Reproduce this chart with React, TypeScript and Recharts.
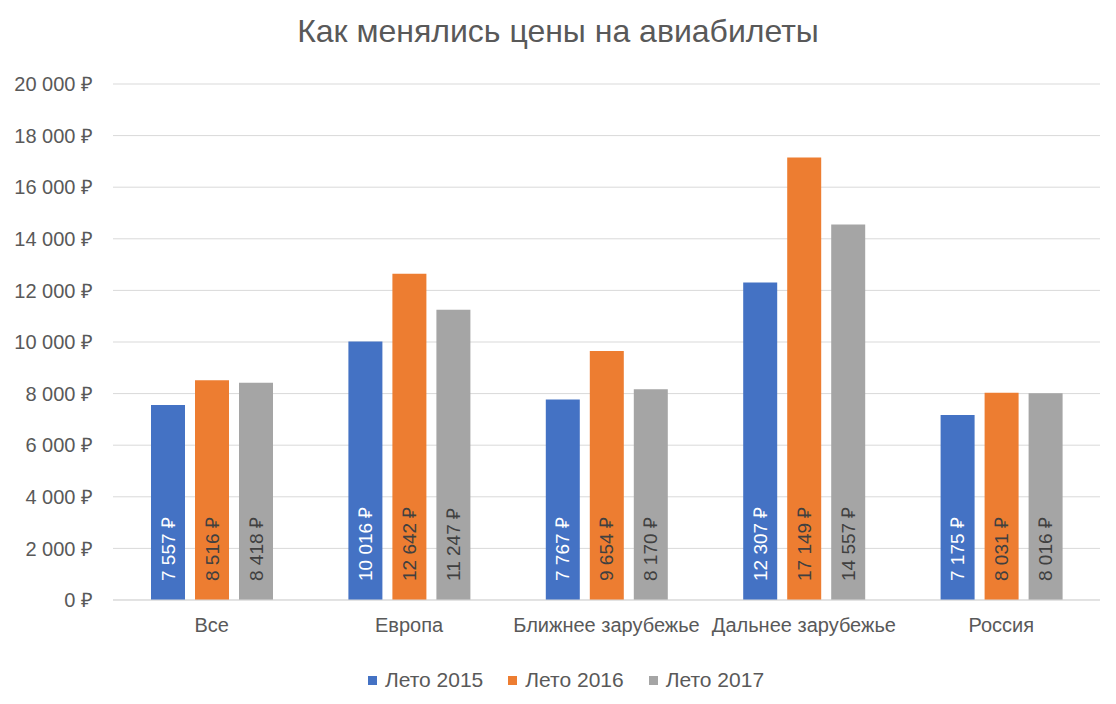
import { BarChart, Bar, XAxis, YAxis, CartesianGrid, Legend } from 'recharts'

const categories = ['Все', 'Европа', 'Ближнее зарубежье', 'Дальнее зарубежье', 'Россия']
const summer2015 = [7557, 10016, 7767, 12307, 7175]
const summer2016 = [8516, 12642, 9654, 17149, 8031]
const summer2017 = [8418, 11247, 8170, 14557, 8016]
const yTicks = [0, 2000, 4000, 6000, 8000, 10000, 12000, 14000, 16000, 18000, 20000]

const seriesInfo = [
  { key: 'y2015', name: 'Лето 2015', color: '#4472C4', labelColor: '#ffffff' },
  { key: 'y2016', name: 'Лето 2016', color: '#ED7D31', labelColor: '#404040' },
  { key: 'y2017', name: 'Лето 2017', color: '#A5A5A5', labelColor: '#404040' },
]

const data = categories.map((name, i) => ({
  name,
  y2015: summer2015[i],
  y2016: summer2016[i],
  y2017: summer2017[i],
}))

const FONT = '"Liberation Sans", "Open Sans", sans-serif'

function rub(v: number) {
  return String(v).replace(/\B(?=(\d{3})+(?!\d))/g, ' ') + ' ₽'
}

function makeLabel(color: string) {
  return (props: any) => {
    const { x, y, width, height, value } = props
    const cx = x + width / 2
    const cy = y + height - 19
    return (
      <text
        x={cx}
        y={cy}
        transform={`rotate(-90 ${cx} ${cy})`}
        textAnchor="start"
        dominantBaseline="central"
        fill={color}
        fontSize={19}
        fontFamily={FONT}
      >
        {rub(value)}
      </text>
    )
  }
}

function LegendContent() {
  return (
    <div
      style={{
        display: 'flex',
        justifyContent: 'center',
        gap: 25,
        paddingTop: 4,
        paddingLeft: 32,
        fontFamily: FONT,
        fontSize: 21,
        color: '#595959',
      }}
    >
      {seriesInfo.map((s) => (
        <div key={s.key} style={{ display: 'flex', alignItems: 'center' }}>
          <span style={{ display: 'inline-block', width: 9, height: 9, background: s.color, marginRight: 8 }} />
          <span>{s.name}</span>
        </div>
      ))}
    </div>
  )
}

export default function App() {
  return (
    <div style={{ position: 'absolute', left: 0, top: 0, width: 1116, height: 704, background: '#fff' }}>
      <div
        style={{
          position: 'absolute',
          top: 13,
          left: 0,
          width: 1116,
          textAlign: 'center',
          fontFamily: FONT,
          fontSize: 32,
          color: '#595959',
        }}
      >
        Как менялись цены на авиабилеты
      </div>
      <BarChart
        width={1116}
        height={704}
        data={data}
        margin={{ top: 84, right: 16, left: 0, bottom: 10 }}
        barSize={34}
        barGap={10}
      >
        <CartesianGrid vertical={false} stroke="#d9d9d9" />
        <XAxis
          dataKey="name"
          height={64}
          tickLine={false}
          axisLine={{ stroke: '#d9d9d9' }}
          tickMargin={12}
          interval={0}
          tick={{ fill: '#595959', fontSize: 20, fontFamily: FONT }}
        />
        <YAxis
          width={113}
          domain={[0, 20000]}
          ticks={yTicks}
          axisLine={false}
          tickLine={false}
          tickMargin={14}
          tickFormatter={rub}
          tick={{ fill: '#595959', fontSize: 20, fontFamily: FONT }}
        />
        <Legend verticalAlign="bottom" height={30} content={<LegendContent />} />
        {seriesInfo.map((s) => (
          <Bar
            key={s.key}
            dataKey={s.key}
            name={s.name}
            fill={s.color}
            isAnimationActive={false}
            label={makeLabel(s.labelColor)}
          />
        ))}
      </BarChart>
    </div>
  )
}
